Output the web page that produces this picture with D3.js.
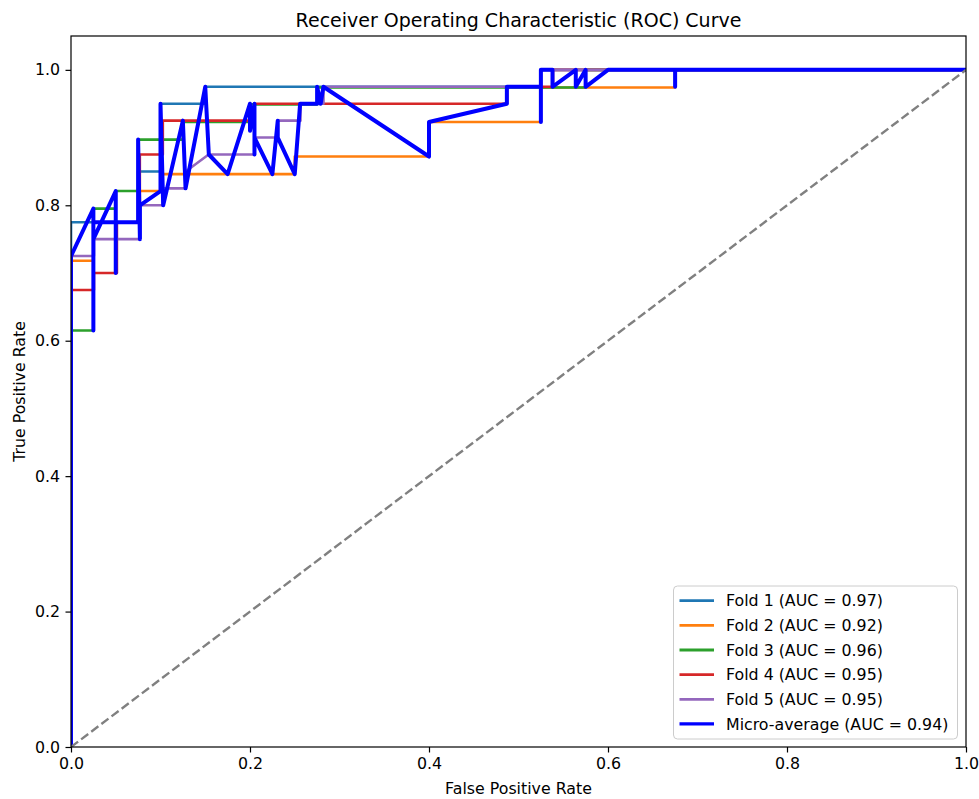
<!DOCTYPE html>
<html>
<head>
<meta charset="utf-8">
<script src="https://cdn.jsdelivr.net/npm/d3@7"></script>
<style>
  body { margin: 0; background: #fff; }
  text { font-family: "DejaVu Sans", sans-serif; fill: #000; }
</style>
</head>
<body>
<div id="chart"></div>
<script>
// ROC curves per fold
const fold1Fpr = [0, 0, 0.075, 0.075, 0.1, 0.1, 0.15, 0.15, 0.525, 0.525, 1];
const fold1Tpr = [0, 0.775, 0.775, 0.85, 0.85, 0.95, 0.95, 0.975, 0.975, 1, 1];

const fold2Fpr = [0, 0, 0.025, 0.025, 0.075, 0.075, 0.1, 0.1, 0.25, 0.25, 0.4, 0.4, 0.525, 0.525, 0.675, 0.675, 1];
const fold2Tpr = [0, 0.718, 0.718, 0.775, 0.775, 0.821, 0.821, 0.846, 0.846, 0.872, 0.872, 0.923, 0.923, 0.974, 0.974, 1, 1];

const fold3Fpr = [0, 0, 0.025, 0.025, 0.05, 0.05, 0.075, 0.075, 0.125, 0.125, 0.2, 0.2, 0.275, 0.275, 0.575, 0.575, 1];
const fold3Tpr = [0, 0.615, 0.615, 0.795, 0.795, 0.821, 0.821, 0.897, 0.897, 0.923, 0.923, 0.949, 0.949, 0.974, 0.974, 1, 1];

const fold4Fpr = [0, 0, 0.0256, 0.0256, 0.0513, 0.0513, 0.0769, 0.0769, 0.1026, 0.1026, 0.2051, 0.2051, 0.4872, 0.4872, 0.5385, 0.5385, 1];
const fold4Tpr = [0, 0.675, 0.675, 0.7, 0.7, 0.775, 0.775, 0.875, 0.875, 0.925, 0.925, 0.95, 0.95, 0.975, 0.975, 1, 1];

const fold5Fpr = [0, 0, 0.0256, 0.0256, 0.0769, 0.0769, 0.1026, 0.1026, 0.1282, 0.1282, 0.1538, 0.2051, 0.2051, 0.2308, 0.2308, 0.2564, 0.2564, 0.2821, 0.2821, 0.525, 0.525, 1];
const fold5Tpr = [0, 0.725, 0.725, 0.75, 0.75, 0.8, 0.8, 0.825, 0.825, 0.85, 0.875, 0.875, 0.9, 0.9, 0.925, 0.925, 0.95, 0.95, 0.975, 0.975, 1, 1];

// micro-average line (drawn in the order the points appear, so it zigzags)
const microFpr = [0, 0, 0.025, 0.025, 0.025, 0.05, 0.05, 0.05, 0.025, 0.075, 0.075, 0.077, 0.077, 0.1, 0.1, 0.103,
  0.125, 0.128, 0.15, 0.154, 0.175, 0.2, 0.2, 0.205, 0.205, 0.205, 0.225, 0.231, 0.231, 0.25, 0.256, 0.275, 0.275,
  0.279, 0.282, 0.4, 0.4, 0.487, 0.487, 0.525, 0.525, 0.525, 0.538, 0.538, 0.564, 0.564, 0.575, 0.575, 0.6, 0.675,
  0.675, 0.675, 1];
const microTpr = [0, 0.725, 0.795, 0.615, 0.75, 0.821, 0.70, 0.775, 0.775, 0.775, 0.897, 0.75, 0.80, 0.821, 0.95, 0.80,
  0.925, 0.825, 0.975, 0.875, 0.846, 0.95, 0.91, 0.95, 0.875, 0.9, 0.846, 0.925, 0.9, 0.846, 0.95, 0.95, 0.975,
  0.95, 0.975, 0.872, 0.923, 0.95, 0.975, 0.975, 0.923, 1, 1, 0.975, 1, 0.975, 1, 0.975, 1, 1,
  0.975, 1, 1];

const seriesNames = ["Fold 1 (AUC = 0.97)", "Fold 2 (AUC = 0.92)", "Fold 3 (AUC = 0.96)",
  "Fold 4 (AUC = 0.95)", "Fold 5 (AUC = 0.95)", "Micro-average (AUC = 0.94)"];
const seriesColors = ["#1f77b4", "#ff7f0e", "#2ca02c", "#d62728", "#9467bd", "#0000ff"];
const tickValues = [0, 0.2, 0.4, 0.6, 0.8, 1.0];

const width = 979,
  height = 799,
  margin = { top: 36, right: 13, bottom: 52, left: 71 };

const series = [
  [fold1Fpr, fold1Tpr],
  [fold2Fpr, fold2Tpr],
  [fold3Fpr, fold3Tpr],
  [fold4Fpr, fold4Tpr],
  [fold5Fpr, fold5Tpr],
  [microFpr, microTpr],
].map(([f, t], i) => ({
  name: seriesNames[i],
  color: seriesColors[i],
  width: i === 5 ? 4 : 2.6,
  points: f.map((d, j) => [d, t[j]]),
}));

const svg = d3
  .select("#chart")
  .append("svg")
  .attr("width", width)
  .attr("height", height);

const x = d3
  .scaleLinear()
  .domain([0, 1])
  .range([margin.left, width - margin.right]);

const y = d3
  .scaleLinear()
  .domain([0, 1.05])
  .range([height - margin.bottom, margin.top]);

svg
  .append("clipPath")
  .attr("id", "plot-clip")
  .append("rect")
  .attr("x", x(0))
  .attr("y", y(1.05))
  .attr("width", x(1) - x(0))
  .attr("height", y(0) - y(1.05));

const plot = svg.append("g").attr("clip-path", "url(#plot-clip)");

const line = d3
  .line()
  .x((d) => x(d[0]))
  .y((d) => y(d[1]));

plot
  .selectAll("path.roc")
  .data(series)
  .join("path")
  .attr("class", "roc")
  .attr("d", (d) => line(d.points))
  .attr("fill", "none")
  .attr("stroke", (d) => d.color)
  .attr("stroke-width", (d) => d.width)
  .attr("stroke-linejoin", "round")
  .attr("stroke-linecap", "square");

// chance line
plot
  .append("path")
  .attr("d", line([[0, 0], [1, 1]]))
  .attr("fill", "none")
  .attr("stroke", "#808080")
  .attr("stroke-width", 2.4)
  .attr("stroke-dasharray", "8.9,3.8");

// axes
const fmt = d3.format(".1f");
const xAxis = svg
  .append("g")
  .attr("transform", `translate(0,${y(0)})`)
  .call(d3.axisBottom(x).tickValues(tickValues).tickFormat(fmt).tickSize(5.5).tickPadding(5.5));
const yAxis = svg
  .append("g")
  .attr("transform", `translate(${x(0)},0)`)
  .call(d3.axisLeft(y).tickValues(tickValues).tickFormat(fmt).tickSize(5.5).tickPadding(5.5));

[xAxis, yAxis].forEach((g) => {
  g.select(".domain").remove();
  g.selectAll("line").attr("stroke", "#000").attr("stroke-width", 1.2);
  g.selectAll("text").attr("font-size", "15.8px").attr("font-family", "DejaVu Sans").attr("fill", "#000");
});

svg
  .append("rect")
  .attr("x", x(0))
  .attr("y", y(1.05))
  .attr("width", x(1) - x(0))
  .attr("height", y(0) - y(1.05))
  .attr("fill", "none")
  .attr("stroke", "#000")
  .attr("stroke-width", 1.2);

svg
  .append("text")
  .attr("x", (x(0) + x(1)) / 2)
  .attr("y", 27)
  .attr("text-anchor", "middle")
  .attr("font-size", "19px")
  .text("Receiver Operating Characteristic (ROC) Curve");

svg
  .append("text")
  .attr("x", (x(0) + x(1)) / 2)
  .attr("y", 794)
  .attr("text-anchor", "middle")
  .attr("font-size", "15.8px")
  .text("False Positive Rate");

svg
  .append("text")
  .attr("transform", `translate(25,${(y(0) + y(1.05)) / 2}) rotate(-90)`)
  .attr("text-anchor", "middle")
  .attr("font-size", "15.8px")
  .text("True Positive Rate");

// legend, lower right
const legend = svg.append("g").attr("transform", "translate(673.5,586)");
legend
  .append("rect")
  .attr("width", 284)
  .attr("height", 153)
  .attr("rx", 4)
  .attr("fill", "#fff")
  .attr("fill-opacity", 0.8)
  .attr("stroke", "#cccccc")
  .attr("stroke-width", 1);

series.forEach((s, i) => {
  const ry = 14.7 + i * 24.65;
  legend
    .append("line")
    .attr("x1", 6)
    .attr("x2", 40.5)
    .attr("y1", ry)
    .attr("y2", ry)
    .attr("stroke", s.color)
    .attr("stroke-width", i === 5 ? 3.2 : 2.8);
  legend
    .append("text")
    .attr("x", 52.5)
    .attr("y", ry)
    .attr("dy", "0.36em")
    .attr("font-size", "15.8px")
    .text(s.name);
});
</script>
</body>
</html>
